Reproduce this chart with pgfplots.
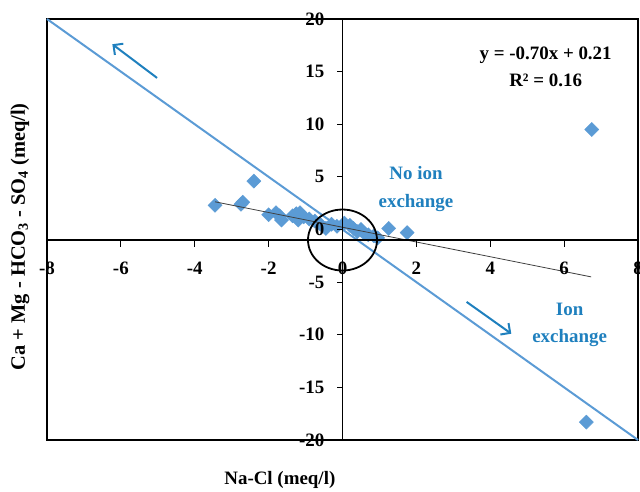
\documentclass[border=0pt]{standalone}
\usepackage{fontspec}
\setmainfont{Liberation Serif}
\usepackage{pgfplots}
\pgfplotsset{compat=1.18}
\usetikzlibrary{arrows.meta}
\definecolor{ptblue}{RGB}{91,155,213}
\definecolor{txtblue}{RGB}{31,128,190}
\begin{document}
\begin{tikzpicture}
\useasboundingbox (0,0) rectangle (640bp,492bp);
\begin{axis}[
  at={(47bp,52bp)}, anchor=south west,
  scale only axis, width=591bp, height=421bp,
  xmin=-8, xmax=8, ymin=-20, ymax=20,
  axis line style={line width=1.6bp},
  xtick=\empty, ytick=\empty,
  clip=false, clip marker paths=true,
  font=\fontsize{19}{22}\selectfont\bfseries,
  xlabel={Na-Cl (meq/l)},
  ylabel={Ca + Mg - HCO\textsubscript{3} - SO\textsubscript{4} (meq/l)},
  xlabel style={at={(rel axis cs:0.394,-0.095)}, anchor=center},
  ylabel style={at={(rel axis cs:-0.0457,0.483)}, anchor=center, font=\fontsize{20.5}{22}\selectfont\bfseries},
]
\addplot[only marks, mark=square*, mark size=5bp, mark options={rotate=45, fill=ptblue, draw=ptblue}] coordinates {
(-3.45,2.3) (-2.75,2.4) (-2.7,2.6) (-2.4,4.6) (-2.0,1.4) (-1.8,1.6) (-1.65,0.9) (-1.7,1.3)
(-1.35,1.3) (-1.25,1.5) (-1.15,1.6) (-1.2,0.9) (-1.05,1.2) (-0.9,1.0) (-0.75,0.8) (-0.6,0.5)
(-0.45,0.1) (-0.3,0.5) (-0.15,0.3) (0.05,0.6) (0.2,0.4) (0.3,0.1) (0.4,-0.2) (0.5,0.0)
(0.6,-0.4) (0.7,-0.5) (0.85,-0.6) (0.95,-0.8) (1.25,0.1) (1.75,-0.3) (6.75,9.5) (6.6,-18.3)
};
\addplot[ptblue, line width=2bp] coordinates {(-8,20) (8,-20)};
\addplot[black!75, line width=0.8bp] coordinates {(-3.45,2.63) (6.73,-4.50)};
\draw[line width=1.6bp] (axis cs:0,-20) -- (axis cs:0,20);
\draw[line width=1.6bp] (axis cs:-8,-1) -- (axis cs:8,-1);
\pgfplotsinvokeforeach{-20,-15,-10,-5,0,5,10,15,20}{
  \draw[line width=1.2bp] (axis cs:0,#1) -- ([xshift=-6bp]axis cs:0,#1);
  \node[anchor=east, inner sep=0] at ([xshift=-18bp]axis cs:0,#1) {#1};
}
\pgfplotsinvokeforeach{-8,-6,-4,-2,0,2,4,6,8}{
  \draw[line width=1.2bp] (axis cs:#1,-1) -- ([yshift=-7bp]axis cs:#1,-1);
  \node[inner sep=0] at ([yshift=-28bp]axis cs:#1,-1) {#1};
}
\draw[line width=1.8bp] (axis cs:0,-1) ellipse [x radius=34.5bp, y radius=30.5bp];
\draw[txtblue, line width=2bp, -{Straight Barb[length=7bp, width=14bp]}] (axis cs:-5.02,14.4) -- (axis cs:-6.23,17.6);
\draw[txtblue, line width=2bp, -{Straight Barb[length=7bp, width=14bp]}] (axis cs:3.36,-6.88) -- (axis cs:4.57,-9.9);
\node[anchor=base, txtblue] at (axis cs:1.99,4.71) {No ion};
\node[anchor=base, txtblue] at (axis cs:1.99,2.05) {exchange};
\node[anchor=base, txtblue] at (axis cs:6.15,-8.14) {Ion};
\node[anchor=base, txtblue] at (axis cs:6.15,-10.69) {exchange};
\node[anchor=base] at (axis cs:5.5,16.14) {y = -0.70x + 0.21};
\node[anchor=base] at (axis cs:5.5,13.6) {R² = 0.16};
\end{axis}
\end{tikzpicture}
\end{document}
